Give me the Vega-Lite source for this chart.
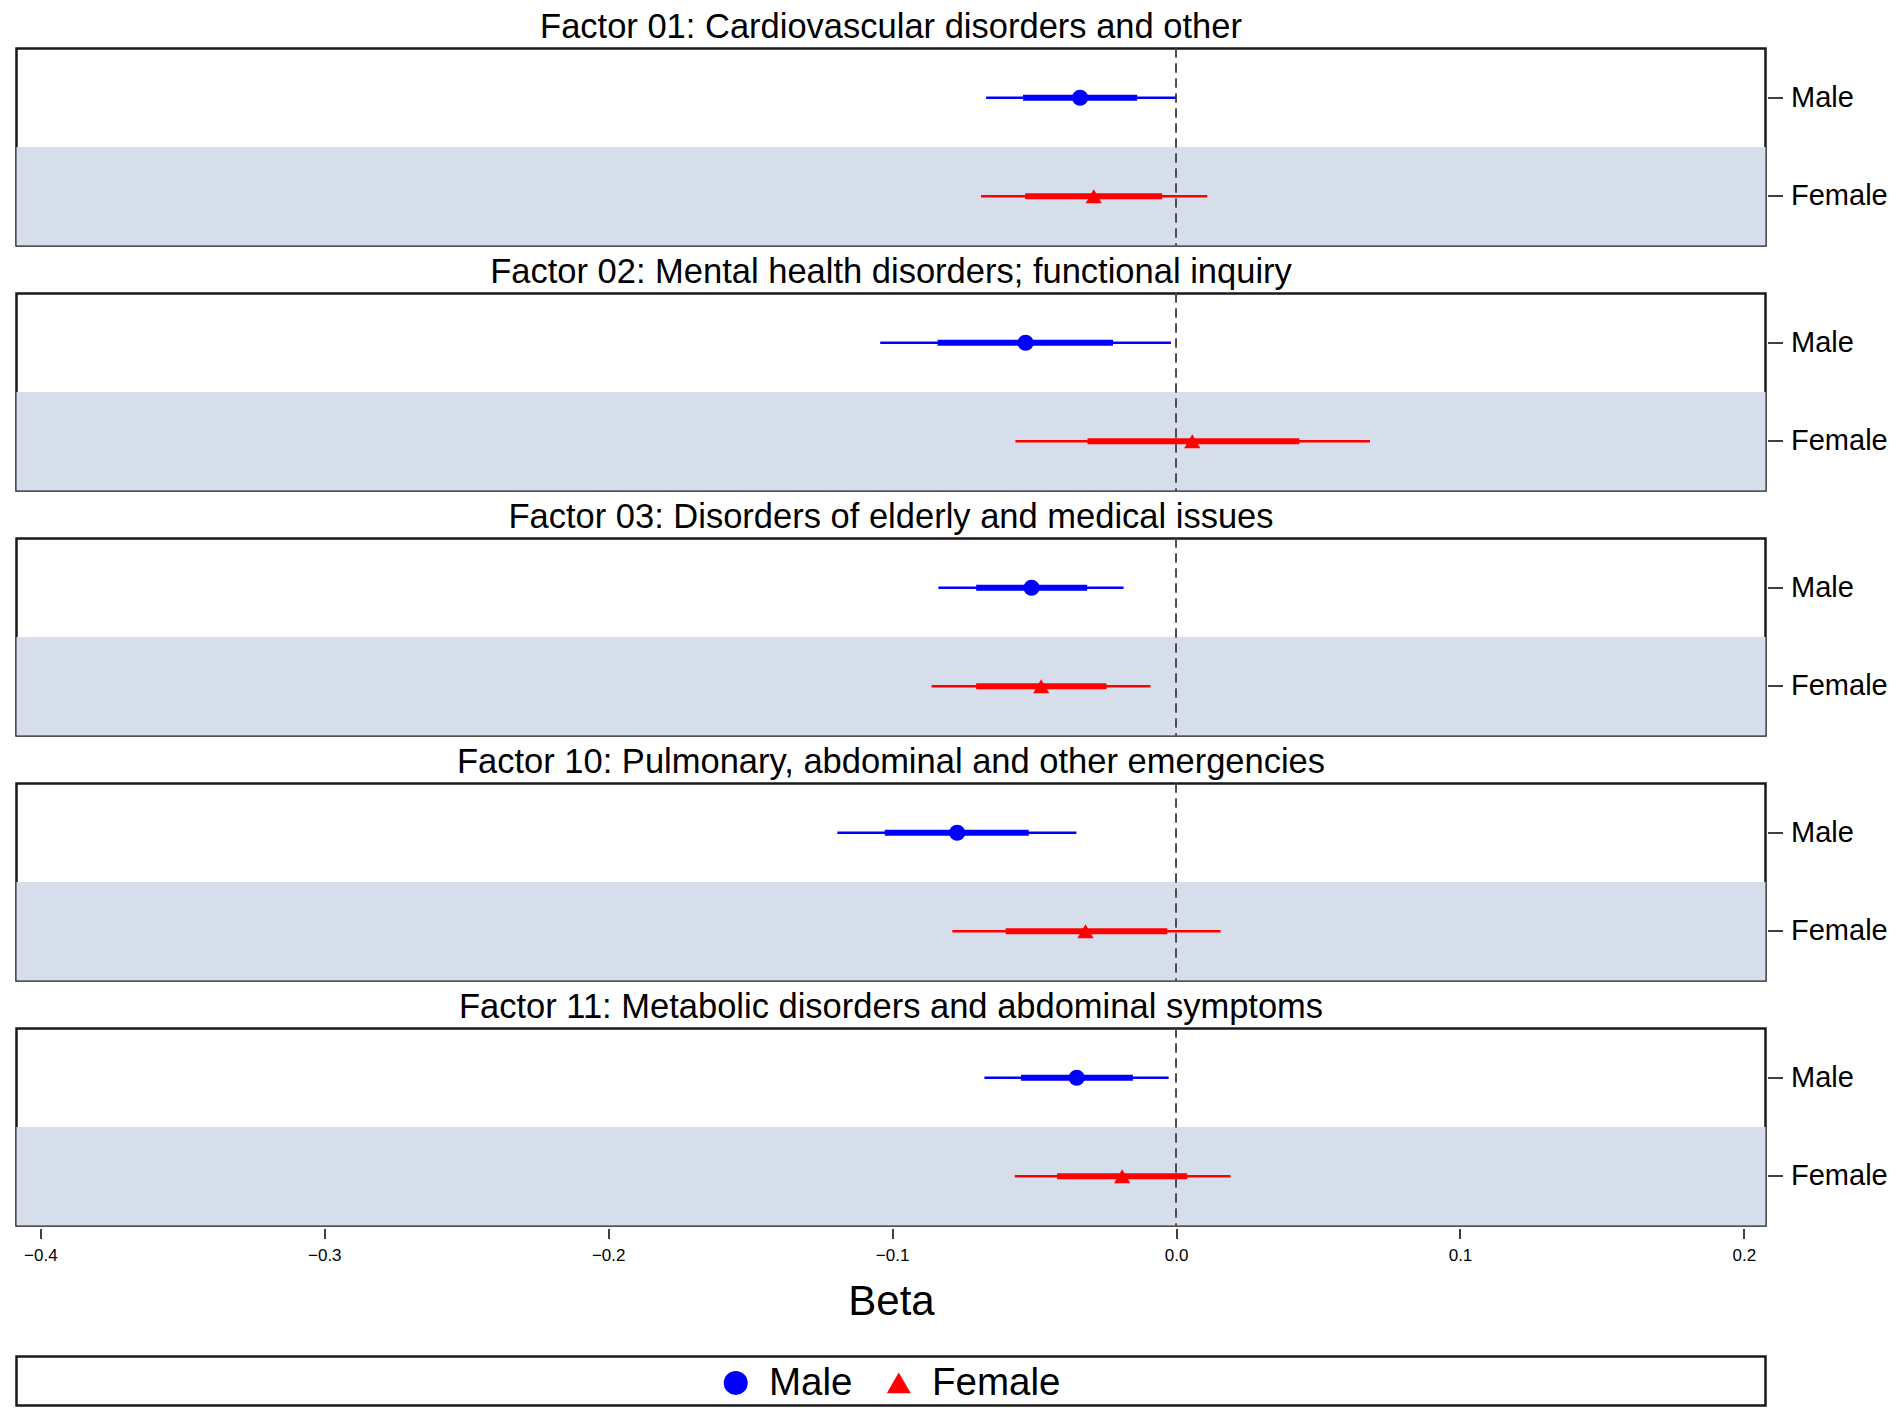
{
  "$schema": "https://vega.github.io/schema/vega-lite/v6.json",
  "padding": {"left": 14.5, "top": 8.5, "right": 0, "bottom": 0},
  "background": "white",
  "config": {
    "font": "Liberation Sans",
    "view": {"stroke": "#1a1a1a", "strokeWidth": 2.5},
    "axis": {"grid": false}
  },
  "datasets": {
    "est": [
      {"factor": "Factor 01: Cardiovascular disorders and other", "sex": "Male", "beta": -0.0338, "outer_lo": -0.0669, "outer_hi": -0.0001, "inner_lo": -0.0539, "inner_hi": -0.0137},
      {"factor": "Factor 01: Cardiovascular disorders and other", "sex": "Female", "beta": -0.0290, "outer_lo": -0.0687, "outer_hi": 0.0110, "inner_lo": -0.0531, "inner_hi": -0.0049},
      {"factor": "Factor 02: Mental health disorders; functional inquiry", "sex": "Male", "beta": -0.0530, "outer_lo": -0.1042, "outer_hi": -0.0018, "inner_lo": -0.0840, "inner_hi": -0.0222},
      {"factor": "Factor 02: Mental health disorders; functional inquiry", "sex": "Female", "beta": 0.0057, "outer_lo": -0.0566, "outer_hi": 0.0683, "inner_lo": -0.0312, "inner_hi": 0.0434},
      {"factor": "Factor 03: Disorders of elderly and medical issues", "sex": "Male", "beta": -0.0509, "outer_lo": -0.0837, "outer_hi": -0.0185, "inner_lo": -0.0704, "inner_hi": -0.0313},
      {"factor": "Factor 03: Disorders of elderly and medical issues", "sex": "Female", "beta": -0.0475, "outer_lo": -0.0861, "outer_hi": -0.0090, "inner_lo": -0.0704, "inner_hi": -0.0245},
      {"factor": "Factor 10: Pulmonary, abdominal and other emergencies", "sex": "Male", "beta": -0.0771, "outer_lo": -0.1193, "outer_hi": -0.0351, "inner_lo": -0.1026, "inner_hi": -0.0519},
      {"factor": "Factor 10: Pulmonary, abdominal and other emergencies", "sex": "Female", "beta": -0.0319, "outer_lo": -0.0788, "outer_hi": 0.0157, "inner_lo": -0.0600, "inner_hi": -0.0031},
      {"factor": "Factor 11: Metabolic disorders and abdominal symptoms", "sex": "Male", "beta": -0.0350, "outer_lo": -0.0675, "outer_hi": -0.0026, "inner_lo": -0.0546, "inner_hi": -0.0152},
      {"factor": "Factor 11: Metabolic disorders and abdominal symptoms", "sex": "Female", "beta": -0.0190, "outer_lo": -0.0568, "outer_hi": 0.0192, "inner_lo": -0.0419, "inner_hi": 0.0039}
    ]
  },
  "spacing": 32,
  "vconcat": [
    {
      "data": {"name": "est"},
      "facet": {
        "field": "factor", "type": "nominal", "title": null,
        "header": {"labelFontSize": 34.5, "labelPadding": 2, "labelColor": "black", "labelFont": "Liberation Sans"}
      },
      "columns": 1,
      "spacing": 5,
      "spec": {
        "width": 1749,
        "height": 197,
        "layer": [
          {
            "transform": [{"filter": "datum.sex === 'Female'"}],
            "mark": {"type": "rect", "fill": "#d6deeb"},
            "encoding": {
              "y": {"field": "sex", "type": "nominal", "sort": ["Male", "Female"], "scale": {"type": "band", "paddingInner": 0, "paddingOuter": 0}, "title": null}
            }
          },
          {
            "mark": {"type": "rule", "color": "#4d4d4d", "strokeWidth": 1.8, "strokeDash": [9, 6]},
            "encoding": {"x": {"datum": 0, "type": "quantitative", "title": "Beta"}}
          },
          {
            "mark": {"type": "rule", "strokeWidth": 2.6},
            "encoding": {
              "x": {"field": "outer_lo", "type": "quantitative", "title": "Beta"},
              "x2": {"field": "outer_hi"},
              "y": {"field": "sex", "type": "nominal", "sort": ["Male", "Female"], "scale": {"type": "band", "paddingInner": 0, "paddingOuter": 0}, "title": null},
              "color": {"field": "sex", "type": "nominal", "scale": {"domain": ["Male", "Female"], "range": ["#0000ff", "#ff0000"]}}
            }
          },
          {
            "mark": {"type": "rule", "strokeWidth": 6},
            "encoding": {
              "x": {"field": "inner_lo", "type": "quantitative", "title": "Beta"},
              "x2": {"field": "inner_hi"},
              "y": {"field": "sex", "type": "nominal", "sort": ["Male", "Female"], "scale": {"type": "band", "paddingInner": 0, "paddingOuter": 0}, "title": null},
              "color": {"field": "sex", "type": "nominal", "scale": {"domain": ["Male", "Female"], "range": ["#0000ff", "#ff0000"]}}
            }
          },
          {
            "mark": {"type": "point", "filled": true, "size": 260, "opacity": 1},
            "encoding": {
              "x": {
                "field": "beta", "type": "quantitative", "title": "Beta",
                "scale": {"domain": [-0.4084, 0.2076], "nice": false, "zero": false},
                "axis": {"values": [-0.4, -0.3, -0.2, -0.1, 0, 0.1, 0.2], "format": ".1f", "labelFontSize": 17, "labelColor": "black", "tickSize": 10, "tickColor": "black", "tickWidth": 1.5, "labelPadding": 9, "domain": false, "titleFontSize": 42, "titleFontWeight": "normal", "titleColor": "black", "titlePadding": 18}
              },
              "y": {
                "field": "sex", "type": "nominal", "sort": ["Male", "Female"], "scale": {"type": "band", "paddingInner": 0, "paddingOuter": 0}, "title": null,
                "axis": {"orient": "right", "labelFontSize": 29, "labelColor": "black", "tickSize": 15, "tickColor": "black", "tickWidth": 1.5, "labelPadding": 8, "domain": false}
              },
              "color": {
                "field": "sex", "type": "nominal", "scale": {"domain": ["Male", "Female"], "range": ["#0000ff", "#ff0000"]},
                "legend": {"orient": "none", "legendX": 700, "legendY": 1315, "direction": "horizontal", "title": null, "symbolSize": 576, "labelFontSize": 38.5, "labelColor": "black", "labelOffset": 14, "columnPadding": 27, "padding": 0, "symbolStrokeWidth": 0}
              },
              "shape": {
                "field": "sex", "type": "nominal", "scale": {"domain": ["Male", "Female"], "range": ["circle", "triangle-up"]},
                "legend": {"orient": "none", "legendX": 700, "legendY": 1315, "direction": "horizontal", "title": null, "symbolSize": 576, "labelFontSize": 38.5, "labelColor": "black", "labelOffset": 14, "columnPadding": 27, "padding": 0, "symbolStrokeWidth": 0}
              }
            }
          }
        ]
      }
    },
    {
      "data": {"values": [{"k": 1}]},
      "width": 1749,
      "height": 49,
      "view": {"stroke": "#1a1a1a", "strokeWidth": 2.5, "fill": "white"},
      "mark": {"type": "text", "text": " "},
      "encoding": {}
    }
  ]
}
